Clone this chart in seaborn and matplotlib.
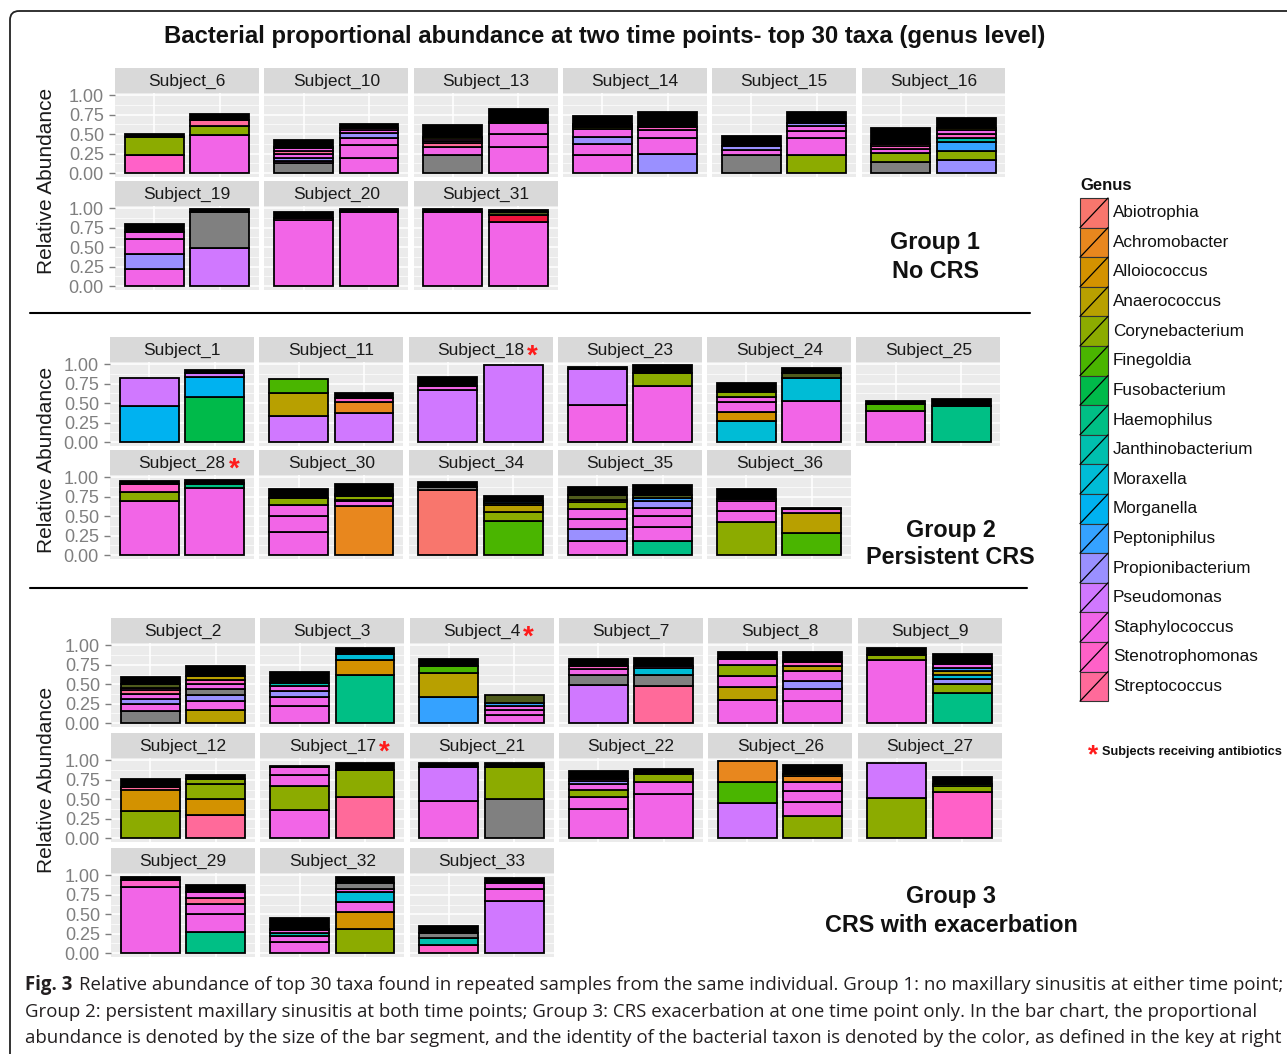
import numpy as np
import pandas as pd
import seaborn as sns
import matplotlib.pyplot as plt
from matplotlib.patches import Rectangle, FancyBboxPatch

# genus codes -> colours (ggplot-like hue palette + extras)
genus_names = ["Abiotrophia", "Achromobacter", "Alloiococcus", "Anaerococcus", "Corynebacterium",
               "Finegoldia", "Fusobacterium", "Haemophilus", "Janthinobacterium", "Moraxella",
               "Morganella", "Peptoniphilus", "Propionibacterium", "Pseudomonas", "Staphylococcus",
               "Stenotrophomonas", "Streptococcus"]
genus_codes = ["Abi", "Ach", "All", "Ana", "Cor", "Fin", "Fus", "Hae", "Jan", "Mor",
               "Mrg", "Pep", "Pro", "Pse", "Sta", "Ste", "Str"]
genus_colors = ["#F8766D", "#E8871E", "#D39200", "#B8A000", "#8CAB00", "#4AB500", "#00BA4A",
                "#00BF85", "#00BFAE", "#00BCD6", "#00B2F0", "#35A2FF", "#9A90FF", "#D078FF",
                "#F265E7", "#FF61C8", "#FF6A9A"]
extra_codes = ["Gry", "Red", "Olv", "Oth"]
extra_colors = ["#808080", "#F0143C", "#4F5B1C", "#000000"]

antibiotic_subjects = ["Subject_18", "Subject_28", "Subject_4", "Subject_17"]

# ---- Group 1: No CRS
g1_subjects = ["Subject_6", "Subject_10", "Subject_13", "Subject_14", "Subject_15", "Subject_16",
               "Subject_19", "Subject_20", "Subject_31"]
g1_t1 = [
    [("Ste", 0.23), ("Cor", 0.23), ("Oth", 0.04)],
    [("Gry", 0.13), ("Sta", 0.02), ("Pro", 0.05), ("Sta", 0.05), ("Str", 0.04), ("Sta", 0.03), ("Ste", 0.02), ("Oth", 0.09)],
    [("Gry", 0.23), ("Sta", 0.10), ("Str", 0.055), ("Sta", 0.03), ("Ste", 0.03), ("Cor", 0.02), ("Oth", 0.15)],
    [("Sta", 0.23), ("Sta", 0.14), ("Pro", 0.10), ("Sta", 0.095), ("Cor", 0.03), ("Pro", 0.015), ("Ste", 0.015), ("Oth", 0.11)],
    [("Gry", 0.23), ("Sta", 0.07), ("Pro", 0.05), ("Oth", 0.13)],
    [("Gry", 0.14), ("Cor", 0.12), ("Sta", 0.05), ("Ste", 0.045), ("Str", 0.02), ("Oth", 0.20)],
    [("Sta", 0.22), ("Pro", 0.19), ("Sta", 0.19), ("Sta", 0.10), ("Oth", 0.10)],
    [("Sta", 0.85), ("Ste", 0.03), ("Oth", 0.07)],
    [("Sta", 0.95), ("Oth", 0.04)],
]
g1_t2 = [
    [("Sta", 0.49), ("Cor", 0.12), ("Str", 0.07), ("Oth", 0.08)],
    [("Sta", 0.20), ("Sta", 0.16), ("Sta", 0.09), ("Pro", 0.065), ("Sta", 0.04), ("Ste", 0.03), ("Oth", 0.04)],
    [("Sta", 0.34), ("Sta", 0.16), ("Sta", 0.14), ("Pro", 0.02), ("Oth", 0.17)],
    [("Pro", 0.24), ("Sta", 0.21), ("Sta", 0.11), ("Ste", 0.03), ("Oth", 0.19)],
    [("Cor", 0.23), ("Sta", 0.22), ("Sta", 0.09), ("Sta", 0.07), ("Pro", 0.04), ("Oth", 0.13)],
    [("Pro", 0.165), ("Cor", 0.12), ("Pep", 0.12), ("Jan", 0.05), ("Ste", 0.045), ("Sta", 0.055), ("Ana", 0.02), ("Oth", 0.14)],
    [("Pse", 0.49), ("Gry", 0.46), ("Oth", 0.045)],
    [("Sta", 0.95), ("Ste", 0.01), ("Oth", 0.03)],
    [("Sta", 0.83), ("Red", 0.085), ("Olv", 0.035), ("Oth", 0.03)],
]

# ---- Group 2: Persistent CRS
g2_subjects = ["Subject_1", "Subject_11", "Subject_18", "Subject_23", "Subject_24", "Subject_25",
               "Subject_28", "Subject_30", "Subject_34", "Subject_35", "Subject_36"]
g2_t1 = [
    [("Mrg", 0.47), ("Pse", 0.36)],
    [("Pse", 0.34), ("Ana", 0.29), ("Fin", 0.175)],
    [("Pse", 0.675), ("Sta", 0.04), ("Oth", 0.12)],
    [("Sta", 0.48), ("Pse", 0.46), ("Oth", 0.03)],
    [("Mor", 0.27), ("All", 0.115), ("Sta", 0.13), ("Sta", 0.07), ("Cor", 0.055), ("Sta", 0.02), ("Oth", 0.10)],
    [("Sta", 0.40), ("Fin", 0.095), ("Oth", 0.04)],
    [("Sta", 0.70), ("Cor", 0.11), ("Ste", 0.10), ("Oth", 0.045)],
    [("Sta", 0.30), ("Sta", 0.205), ("Sta", 0.14), ("Cor", 0.085), ("Oth", 0.12)],
    [("Abi", 0.84), ("Gry", 0.04), ("Oth", 0.055)],
    [("Sta", 0.18), ("Pro", 0.15), ("Sta", 0.13), ("Sta", 0.13), ("Cor", 0.095), ("Ana", 0.03), ("Olv", 0.055), ("Oth", 0.11)],
    [("Cor", 0.43), ("Sta", 0.14), ("Sta", 0.13), ("Sta", 0.02), ("Oth", 0.13)],
]
g2_t2 = [
    [("Fus", 0.585), ("Mrg", 0.25), ("Pse", 0.05), ("Oth", 0.04)],
    [("Pse", 0.37), ("Ach", 0.15), ("Ste", 0.045), ("Oth", 0.065)],
    [("Pse", 0.99)],
    [("Sta", 0.72), ("Cor", 0.17), ("Oth", 0.10)],
    [("Sta", 0.53), ("Mor", 0.30), ("Olv", 0.06), ("Oth", 0.065)],
    [("Hae", 0.46), ("Oth", 0.095)],
    [("Sta", 0.86), ("Hae", 0.05), ("Pse", 0.02), ("Oth", 0.03)],
    [("Ach", 0.63), ("Sta", 0.065), ("Ste", 0.02), ("Cor", 0.04), ("Sta", 0.02), ("Pro", 0.015), ("Oth", 0.13)],
    [("Fin", 0.445), ("Cor", 0.11), ("Ana", 0.085), ("Ana", 0.03), ("Pep", 0.02), ("Oth", 0.07)],
    [("Hae", 0.18), ("Sta", 0.18), ("Sta", 0.14), ("Sta", 0.105), ("Pro", 0.085), ("Pep", 0.04), ("Olv", 0.04), ("Oth", 0.13)],
    [("Fin", 0.28), ("Ana", 0.26), ("Sta", 0.055), ("Oth", 0.015)],
]

# ---- Group 3: CRS with exacerbation
g3_subjects = ["Subject_2", "Subject_3", "Subject_4", "Subject_7", "Subject_8", "Subject_9",
               "Subject_12", "Subject_17", "Subject_21", "Subject_22", "Subject_26", "Subject_27",
               "Subject_29", "Subject_32", "Subject_33"]
g3_t1 = [
    [("Gry", 0.15), ("Sta", 0.095), ("Pro", 0.07), ("Sta", 0.06), ("Str", 0.045), ("Sta", 0.035), ("Olv", 0.05), ("Oth", 0.085)],
    [("Sta", 0.215), ("Sta", 0.115), ("Pro", 0.08), ("Sta", 0.065), ("Jan", 0.04), ("Oth", 0.14)],
    [("Pep", 0.33), ("Ana", 0.32), ("Fin", 0.08), ("Oth", 0.095)],
    [("Pse", 0.49), ("Gry", 0.125), ("Sta", 0.08), ("Ste", 0.04), ("Oth", 0.085)],
    [("Sta", 0.30), ("Ana", 0.16), ("Sta", 0.15), ("Cor", 0.14), ("Sta", 0.08), ("Oth", 0.085)],
    [("Sta", 0.81), ("Cor", 0.065), ("Oth", 0.085)],
    [("Cor", 0.345), ("All", 0.28), ("Str", 0.035), ("Oth", 0.095)],
    [("Sta", 0.36), ("Cor", 0.31), ("Sta", 0.14), ("Sta", 0.10), ("Oth", 0.02)],
    [("Sta", 0.475), ("Pse", 0.445), ("Oth", 0.04)],
    [("Sta", 0.375), ("Sta", 0.15), ("Cor", 0.10), ("Sta", 0.065), ("Pro", 0.05), ("Ste", 0.02), ("Oth", 0.10)],
    [("Pse", 0.45), ("Fin", 0.27), ("Ach", 0.27)],
    [("Cor", 0.52), ("Pse", 0.445)],
    [("Sta", 0.85), ("Ste", 0.085), ("Oth", 0.045)],
    [("Sta", 0.14), ("Sta", 0.08), ("Jan", 0.045), ("Sta", 0.03), ("Pro", 0.02), ("Oth", 0.14)],
    [("Ste", 0.11), ("Jan", 0.085), ("Gry", 0.065), ("Oth", 0.085)],
]
g3_t2 = [
    [("Ana", 0.17), ("Sta", 0.115), ("Pro", 0.08), ("Gry", 0.08), ("Sta", 0.06), ("Ste", 0.055), ("Ana", 0.045), ("Oth", 0.13)],
    [("Hae", 0.615), ("All", 0.20), ("Mor", 0.075), ("Oth", 0.07)],
    [("Sta", 0.10), ("Sta", 0.065), ("Sta", 0.05), ("Pep", 0.045), ("Olv", 0.105)],
    [("Str", 0.475), ("Gry", 0.14), ("Mor", 0.095), ("Sta", 0.02), ("Oth", 0.11)],
    [("Sta", 0.29), ("Sta", 0.155), ("Pro", 0.10), ("Sta", 0.12), ("Ana", 0.07), ("Ste", 0.045), ("Cor", 0.02), ("Oth", 0.11)],
    [("Hae", 0.39), ("Cor", 0.11), ("Pro", 0.07), ("Mor", 0.055), ("Ana", 0.045), ("Pep", 0.04), ("Sta", 0.05), ("Oth", 0.13)],
    [("Str", 0.30), ("All", 0.205), ("Cor", 0.195), ("Cor", 0.06), ("Oth", 0.055)],
    [("Str", 0.53), ("Cor", 0.345), ("Oth", 0.085)],
    [("Gry", 0.505), ("Cor", 0.415), ("Oth", 0.04)],
    [("Sta", 0.57), ("Sta", 0.15), ("Cor", 0.10), ("Ste", 0.02), ("Oth", 0.045)],
    [("Cor", 0.29), ("Sta", 0.17), ("Sta", 0.15), ("Sta", 0.11), ("Ach", 0.085), ("Ana", 0.02), ("Oth", 0.12)],
    [("Ste", 0.59), ("Cor", 0.08), ("Fin", 0.02), ("Oth", 0.10)],
    [("Hae", 0.27), ("Sta", 0.235), ("Sta", 0.13), ("Str", 0.08), ("Sta", 0.07), ("Oth", 0.085)],
    [("Cor", 0.315), ("All", 0.215), ("Sta", 0.13), ("Mor", 0.125), ("Sta", 0.045), ("Gry", 0.07), ("Oth", 0.085)],
    [("Pse", 0.67), ("Sta", 0.15), ("Sta", 0.085), ("Oth", 0.065)],
]

palette = dict(zip(genus_codes + extra_codes, genus_colors + extra_colors))

# build long data frame
rows = []
for g, subs, t1, t2 in [(1, g1_subjects, g1_t1, g1_t2), (2, g2_subjects, g2_t1, g2_t2),
                        (3, g3_subjects, g3_t1, g3_t2)]:
    for sub, b1, b2 in zip(subs, t1, t2):
        for time, segs in [(0, b1), (1, b2)]:
            for k, (code, val) in enumerate(segs):
                rows.append(dict(group=g, subject=sub, time=time, order=k, genus=code, value=val))
df = pd.DataFrame(rows)
df["bottom"] = df.groupby(["subject", "time"])["value"].cumsum() - df["value"]
df["color"] = df["genus"].map(palette)

sns.set_theme(style="darkgrid", rc={"axes.facecolor": "#EBEBEB", "grid.color": "white"})
plt.rcParams['font.family'] = ['Liberation Sans', 'DejaVu Sans']

W, H = 1287, 1054
fig = plt.figure(figsize=(W / 100, H / 100), dpi=100)
fig.patch.set_facecolor("white")


def px_axes(x, y, w, h):
    return fig.add_axes([x / W, 1 - (y + h) / H, w / W, h / H])


layout = {1: (115, [68, 181], g1_subjects), 2: (110, [337, 450], g2_subjects),
          3: (111, [618, 733, 848], g3_subjects)}
pitch, pw, sh, ph = 149.3, 144, 25, 84

renderer = fig.canvas.get_renderer()
for g, (left, tops, subs) in layout.items():
    for i, sub in enumerate(subs):
        r, c = divmod(i, 6)
        x0 = left + c * pitch
        y0 = tops[r]
        strip = px_axes(x0, y0, pw, sh)
        strip.set_facecolor("#D9D9D9")
        strip.set_xticks([])
        strip.set_yticks([])
        strip.grid(False)
        for s in strip.spines.values():
            s.set_visible(False)
        t = strip.text(0.5, 0.45, sub, ha="center", va="center", fontsize=12.5, color="#1A1A1A",
                       transform=strip.transAxes)
        if sub in antibiotic_subjects:
            bb = t.get_window_extent(renderer)
            fig.text((bb.x1 + 3) / W, (bb.y0 + bb.y1) / 2 / H - 0.006, "*", color="#FF1A1A",
                     fontsize=20, fontweight="bold", ha="left", va="center")

        ax = px_axes(x0, y0 + sh, pw, ph)
        d = df[df["subject"] == sub]
        ax.bar(d["time"], d["value"], bottom=d["bottom"], color=d["color"].tolist(),
               edgecolor="black", linewidth=1.3, width=0.9, zorder=3)
        ax.set_xlim(-0.6, 1.6)
        ax.set_ylim(-0.05, 1.03)
        ax.set_xticks([0, 1])
        ax.set_xticklabels([])
        ax.set_yticks([0, 0.25, 0.5, 0.75, 1.0])
        ax.set_yticks([0.125, 0.375, 0.625, 0.875], minor=True)
        ax.grid(which="major", color="white", linewidth=1.1)
        ax.grid(which="minor", axis="y", color="white", linewidth=0.5)
        ax.tick_params(axis="x", length=0)
        ax.tick_params(axis="y", which="minor", length=0)
        for s in ax.spines.values():
            s.set_visible(False)
        if c == 0:
            ax.set_yticklabels(["0.00", "0.25", "0.50", "0.75", "1.00"])
            ax.tick_params(axis="y", left=True, length=4, width=1, color="#7F7F7F",
                           labelsize=13, labelcolor="#7F7F7F", pad=4)
        else:
            ax.set_yticklabels([])
            ax.tick_params(axis="y", length=0)

# overlay for annotations
ov = fig.add_axes([0, 0, 1, 1])
ov.set_xlim(0, W)
ov.set_ylim(H, 0)
ov.axis("off")

ov.add_patch(FancyBboxPatch((10, 11), 1300, 1060, boxstyle="round,pad=0,rounding_size=9",
                            fill=False, edgecolor="#222222", linewidth=1.3))

ov.text(605, 37, "Bacterial proportional abundance at two time points- top 30 taxa (genus level)",
        ha="center", va="center", fontsize=17.2, fontweight="bold", color="#111111")

for yc in [181, 460, 780]:
    ov.text(47, yc, "Relative Abundance", rotation=90, ha="center", va="center", fontsize=15,
            color="#1A1A1A")

ov.plot([30, 1030], [313, 313], color="black", linewidth=1.5)
ov.plot([30, 1027], [588, 588], color="black", linewidth=1.5)

group_labels = [(935, 242, "Group 1"), (936, 271, "No CRS"), (951, 530, "Group 2"),
                (950, 558, "Persistent CRS"), (951, 897, "Group 3"), (951, 925, "CRS with exacerbation")]
for x, y, s in group_labels:
    ov.text(x, y, s, ha="center", va="center", fontsize=16.8, fontweight="bold", color="#111111")

# legend
ov.text(1080, 185, "Genus", ha="left", va="center", fontsize=12, fontweight="bold", color="#111111")
kh = 29.6
for i, (name, code) in enumerate(zip(genus_names, genus_codes)):
    y = 198 + i * kh
    ov.add_patch(Rectangle((1080, y), 28, kh, facecolor=palette[code], edgecolor="#333333", linewidth=0.8))
    ov.plot([1080, 1108], [y + kh, y], color="black", linewidth=0.9)
    ov.text(1113, y + kh / 2, name, ha="left", va="center", fontsize=12.3, color="#111111")

ov.text(1093, 755, "*", ha="center", va="center", fontsize=19, fontweight="bold", color="#FF1A1A")
ov.text(1102, 752, "Subjects receiving antibiotics", ha="left", va="center", fontsize=9.2,
        fontweight="bold", color="#111111")

# caption
cap_font = ["Open Sans", "DejaVu Sans"]
ov.text(25, 985, "Fig. 3", ha="left", va="center", fontsize=13.4, fontweight="bold",
        color="#231F20", family=cap_font)
ov.text(79, 985, "Relative abundance of top 30 taxa found in repeated samples from the same individual. "
        "Group 1: no maxillary sinusitis at either time point;", ha="left", va="center",
        fontsize=13.4, color="#231F20", family=cap_font)
ov.text(25, 1012, "Group 2: persistent maxillary sinusitis at both time points; Group 3: CRS exacerbation "
        "at one time point only. In the bar chart, the proportional", ha="left", va="center",
        fontsize=13.4, color="#231F20", family=cap_font)
ov.text(25, 1038, "abundance is denoted by the size of the bar segment, and the identity of the bacterial "
        "taxon is denoted by the color, as defined in the key at right", ha="left", va="center",
        fontsize=13.4, color="#231F20", family=cap_font)

fig.savefig("out.png", dpi=100)
